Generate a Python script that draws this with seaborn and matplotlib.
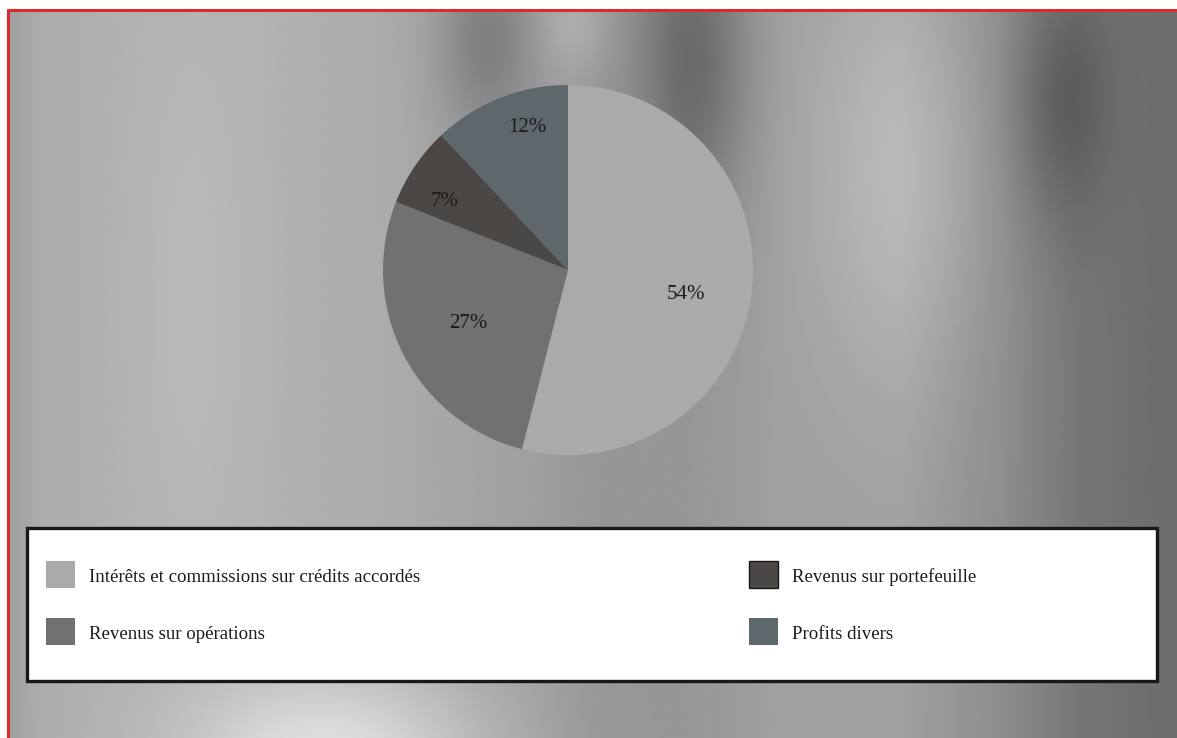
import numpy as np
import matplotlib
matplotlib.use("Agg")
import matplotlib.pyplot as plt
import seaborn as sns
from matplotlib.lines import Line2D
from matplotlib.patches import Rectangle, Wedge
from matplotlib.legend_handler import HandlerPatch

# ---- data ----
categories = [
    "Intérêts et commissions sur crédits accordés",
    "Revenus sur opérations",
    "Revenus sur portefeuille",
    "Profits divers",
]
shares = [54, 27, 7, 12]
pct_labels = ["54%", "27%", "7%", "12%"]
colors = ["#abaaa8", "#72716f", "#4b4744", "#5d676c"]

# label placement style (radial distance, angular nudge in degrees)
label_radius = [0.65, 0.61, 0.76, 0.80]
label_nudge = [-4.4, 1.4, 5.2, -5.6]

sns.set_theme(style="white")
plt.rcParams["font.family"] = ["Liberation Serif", "DejaVu Serif"]

W, H = 1177, 738
fig = plt.figure(figsize=(W / 100, H / 100), dpi=100)
fig.patch.set_facecolor("white")
PX = 72 / 100  # points per pixel

def fx(px):
    return px / W

def fy(py):
    return 1 - py / H

# ---- textured grey background (approximation) ----
bg = fig.add_axes([fx(9), 0, 1 - fx(9), fy(11)])
nx, ny = 400, 260
xs = np.linspace(0, W, nx)
ys = np.linspace(11, H, ny)
X, Y = np.meshgrid(xs, ys)
cx = [0, 30, 100, 250, 400, 520, 600, 680, 780, 900, 1000, 1080, 1177]
cv = [160, 172, 176, 178, 170, 160, 150, 150, 160, 160, 142, 118, 108]
base = np.interp(X, cx, cv)

def blob(x0, y0, sx, sy, amp):
    return amp * np.exp(-(((X - x0) / sx) ** 2 + ((Y - y0) / sy) ** 2))

base += blob(330, 760, 150, 90, 50)
base += blob(480, 40, 50, 110, -35)
base += blob(570, 20, 40, 60, 20)
base += blob(690, 60, 55, 160, -45)
base += blob(900, 170, 90, 220, 25)
base += blob(1060, 100, 50, 120, -30)
base += blob(180, 300, 60, 300, 8)
base = np.clip(base, 0, 255) / 255.0
bg.imshow(base, cmap="gray", vmin=0, vmax=1, aspect="auto",
          extent=[0, 1, 0, 1], interpolation="bilinear")
bg.set_axis_off()

# ---- red frame ----
fig.add_artist(Line2D([fx(8), 1], [fy(10), fy(10)], color="#e02a2a", lw=2.2,
                      transform=fig.transFigure))
fig.add_artist(Line2D([fx(8), fx(8)], [fy(10), 0], color="#e02a2a", lw=2.2,
                      transform=fig.transFigure))

# ---- pie ----
cxp, cyp, r = 568, 270, 185
ax = fig.add_axes([fx(cxp - r), fy(cyp + r), 2 * r / W, 2 * r / H])
ax.set_facecolor("none")
wedges, _ = ax.pie(
    shares, colors=colors, startangle=90, counterclock=False,
    wedgeprops=dict(linewidth=0),
)
for w, lab, rad, nud in zip(wedges, pct_labels, label_radius, label_nudge):
    ang = np.deg2rad((w.theta1 + w.theta2) / 2 + nud)
    ax.text(rad * np.cos(ang), rad * np.sin(ang), lab, ha="center", va="center",
            fontsize=15, color="#1e1a18")
ax.set_xlim(-1, 1)
ax.set_ylim(-1, 1)
ax.set_axis_off()

# ---- legend box ----
fig.add_artist(Rectangle((fx(27), fy(681)), fx(1157) - fx(27), fy(528) - fy(681),
                         transform=fig.transFigure, facecolor="white",
                         edgecolor="#1a1716", linewidth=2.4, zorder=2))

def square(legend, orig_handle, xdescent, ydescent, width, height, fontsize):
    return Rectangle((-xdescent, -6 * PX), 29 * PX, 27 * PX)

fs = 13.6
fspx = fs * 100 / 72
leg_kw = dict(
    loc="upper left", frameon=False, fontsize=fs,
    handlelength=29 / fspx, handleheight=1.0,
    handletextpad=14 / fspx, labelspacing=37.3 / fspx,
    borderpad=0, borderaxespad=0, bbox_transform=fig.transFigure,
    labelcolor="#1e1a18",
    handler_map={Wedge: HandlerPatch(patch_func=square)},
)
top = 585 - 0.93 * fspx
leg1 = fig.legend(wedges[:2], categories[:2], bbox_to_anchor=(fx(46), fy(top)), **leg_kw)
leg2 = fig.legend(wedges[2:], categories[2:], bbox_to_anchor=(fx(749), fy(top)), **leg_kw)
for leg in (leg1, leg2):
    leg.set_zorder(3)
leg2.legend_handles[0].set_edgecolor("#1a1716")
leg2.legend_handles[0].set_linewidth(1.0)

fig.savefig("out.png", dpi=100, facecolor="white")
